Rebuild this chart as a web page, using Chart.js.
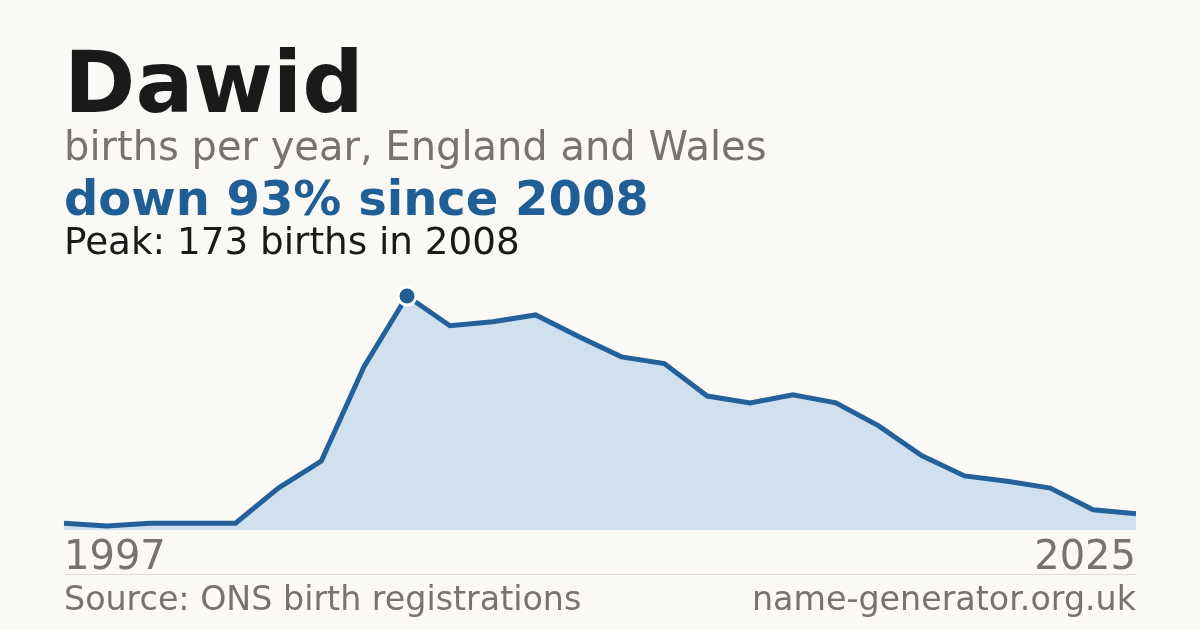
<!DOCTYPE html>
<html>
<head>
<meta charset="utf-8">
<script src="https://cdn.jsdelivr.net/npm/chart.js@4.4.1/dist/chart.umd.min.js"></script>
<style>
  html, body { margin:0; padding:0; background:#faf9f5; }
  #wrap { position:relative; width:1200px; height:630px; overflow:hidden; background:#faf9f5; font-family:"DejaVu Sans", sans-serif; }
  canvas { position:absolute; left:0; top:0; }
  .t { position:absolute; white-space:nowrap; line-height:1; }
  #title { left:64px; top:39px; font-size:86px; font-weight:bold; color:#1a1a1a; }
  #sub { left:64px; top:126px; font-size:40px; color:#78736c; }
  #chg { left:64px; top:174.4px; font-size:48px; font-weight:bold; color:#1f5f96; }
  #peak { left:64px; top:223.2px; font-size:37.3px; color:#1a1a1a; }
  #rule { position:absolute; left:64px; top:574px; width:1072px; height:1px; background:#dedbd4; }
  #src { left:64px; top:582px; font-size:33.3px; color:#78736c; }
  #site { right:64px; top:582px; font-size:33.3px; color:#78736c; }
</style>
</head>
<body>
<div id="wrap">
  <canvas id="c" width="1200" height="630"></canvas>
  <div class="t" id="title">Dawid</div>
  <div class="t" id="sub">births per year, England and Wales</div>
  <div class="t" id="chg">down 93% since 2008</div>
  <div class="t" id="peak">Peak: 173 births in 2008</div>
  <div id="rule"></div>
  <div class="t" id="src">Source: ONS birth registrations</div>
  <div class="t" id="site">name-generator.org.uk</div>
</div>
<script>
const years = ['1997','1998','2001','2003','2004','2005','2006','2007','2008','2009','2010','2011','2012','2013','2014','2015','2016','2017','2018','2019','2020','2021','2022','2023','2024','2025'];
const births = [5,3,5,5,5,31,51,121,173,151,154,159,143,128,123,99,94,100,94,77,55,40,36,31,15,12];
const peakValue = 173;
const peakIndex = births.indexOf(peakValue);

new Chart(document.getElementById('c'), {
  type: 'line',
  data: {
    labels: years,
    datasets: [{
      data: births,
      borderColor: '#24619a',
      borderWidth: 5,
      backgroundColor: '#d0e0ef',
      fill: 'origin',
      tension: 0,
      clip: false,
      borderCapStyle: 'butt',
      borderJoinStyle: 'miter',
      pointRadius: c => c.dataIndex === peakIndex ? 9 : 0,
      pointHoverRadius: 0,
      pointBackgroundColor: '#1f5f96',
      pointBorderColor: '#ffffff',
      pointBorderWidth: 3
    }]
  },
  options: {
    responsive: false,
    animation: false,
    devicePixelRatio: 1,
    events: [],
    layout: { padding: { left: 64, right: 64, top: 296, bottom: 42 } },
    plugins: { legend: { display: false }, tooltip: { enabled: false } },
    scales: {
      y: { display: false, min: 0, max: peakValue },
      x: {
        offset: false,
        grid: { display: false, drawTicks: false },
        border: { display: false },
        ticks: {
          autoSkip: false,
          maxRotation: 0,
          minRotation: 0,
          align: 'inner',
          padding: 5,
          color: '#78736c',
          font: { family: 'DejaVu Sans', size: 40 },
          callback: function(v, i, t) { return (i === 0 || i === t.length - 1) ? this.getLabelForValue(v) : ''; }
        }
      }
    }
  }
});
</script>
</body>
</html>
